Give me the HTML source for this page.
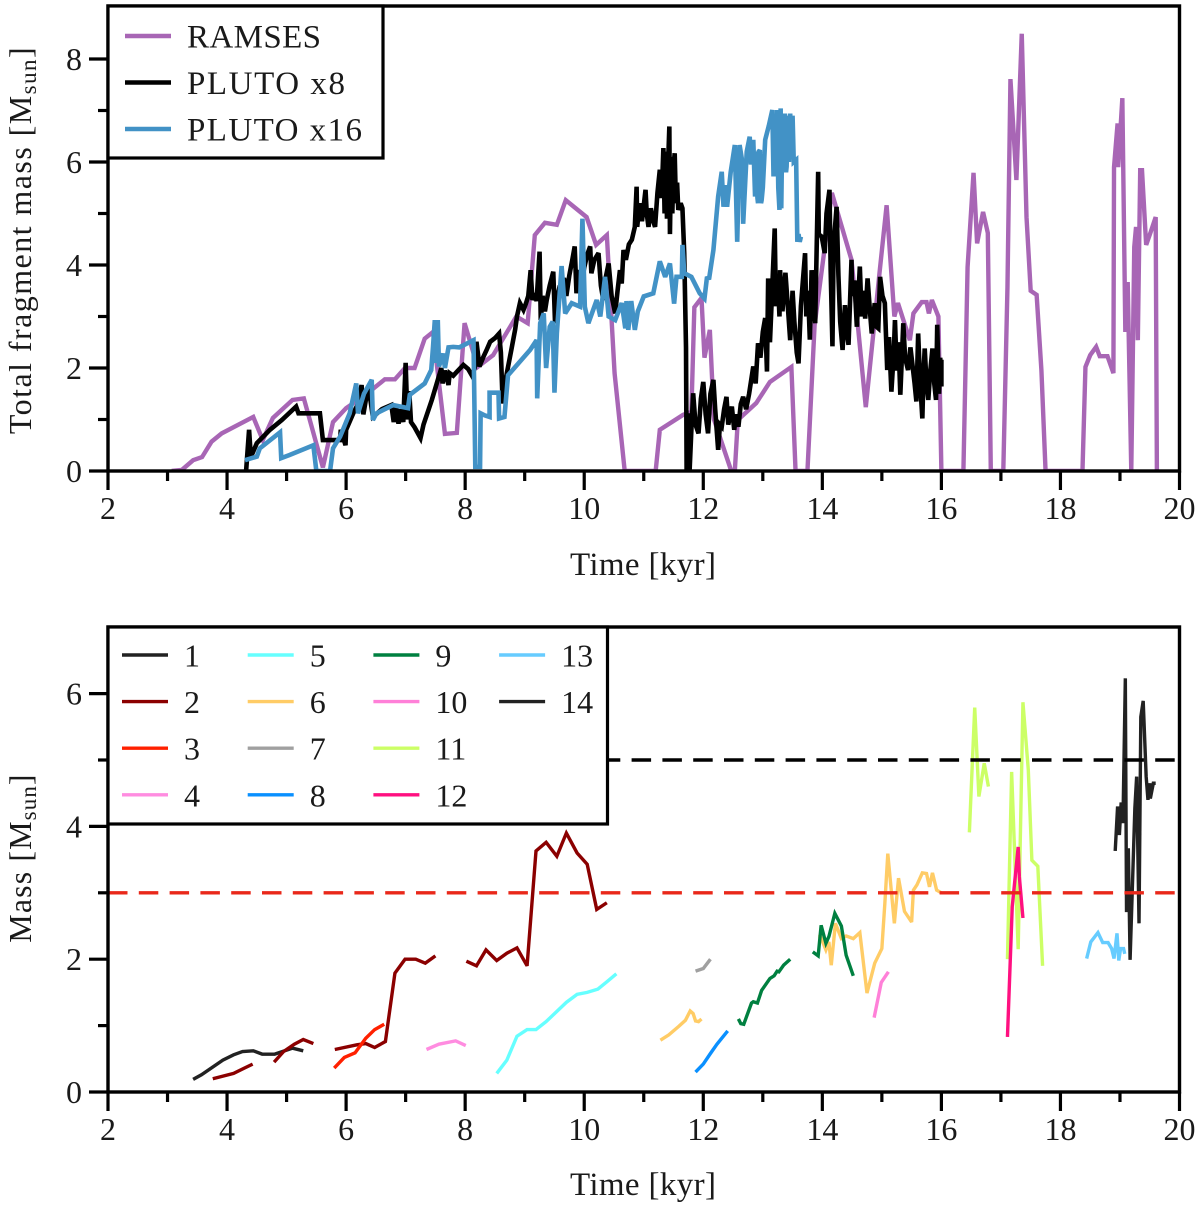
<!DOCTYPE html>
<html lang="en">
<head>
<meta charset="utf-8">
<title>Fragment mass over time</title>
<style>
html,body{margin:0;padding:0;background:#fff;}
svg{display:block;font-family:"Liberation Serif",serif;fill:#1a1a1a;}
</style>
</head>
<body>
<svg id="figure" xmlns="http://www.w3.org/2000/svg" width="1200" height="1209" viewBox="0 0 1200 1209">
  <rect x="0" y="0" width="1200" height="1209" fill="#fff"/>
  <g id="top-panel"></g>
  <g id="bottom-panel"></g>
  <text x="643" y="575" font-size="33" text-anchor="middle" textLength="146" lengthAdjust="spacing">Time [kyr]</text>
  <text x="643" y="1195" font-size="33" text-anchor="middle" textLength="146" lengthAdjust="spacing">Time [kyr]</text>
  <text transform="translate(31,240) rotate(-90)" font-size="32" text-anchor="middle" letter-spacing="1.45">Total fragment mass [M<tspan font-size="23" dy="5">sun</tspan><tspan dy="-5">]</tspan></text>
  <text transform="translate(31,858) rotate(-90)" font-size="32" text-anchor="middle" letter-spacing="1.1">Mass [M<tspan font-size="23" dy="5">sun</tspan><tspan dy="-5">]</tspan></text>
</svg>
<script>
// ---------- Top panel data ----------
const ramsesTime = [
3.07,3.24,3.43,3.58,3.74,3.91,4.44,4.6,4.77,5.1,
5.29,5.61,5.78,6.0,6.35,6.65,6.82,6.99,7.15,7.32,
7.46,7.66,7.86,7.99,8.21,8.47,8.86,9.05,9.17,9.34,
9.54,9.69,10.04,10.2,10.38,10.51,10.68,11.2,11.27,11.66,
11.8,11.85,11.97,12.02,12.11,12.18,12.47,12.53,12.58,12.89,
13.12,13.48,13.55,13.75,13.87,14.16,14.49,14.73,14.96,15.08,
15.21,15.27,15.47,15.53,15.67,15.75,15.79,15.84,15.95,16.0,
16.37,16.44,16.54,16.6,16.7,16.78,16.83,17.04,17.11,17.16,
17.26,17.35,17.43,17.5,17.6,17.68,17.75,18.37,18.42,18.5,
18.6,18.66,18.79,18.89,18.9,18.96,18.97,19.04,19.09,19.13,
19.19,19.24,19.27,19.3,19.34,19.37,19.44,19.51,19.6,19.62];
const ramsesMass = [
0,.02,.21,.27,.57,.73,1.05,.6,1.03,1.38,
1.41,.07,.95,1.22,1.5,1.78,1.78,2.0,2.0,2.57,
2.7,.72,.74,2.87,2.02,2.25,3.0,2.87,4.58,4.82,
4.78,5.26,4.93,4.39,4.58,1.9,0,0,.8,1.09,
1.15,3.18,3.36,2.2,2.74,1.0,0,0,.99,1.32,
1.73,2.02,0,0,2.83,5.4,4.1,1.24,3.84,5.16,
3.0,3.26,2.54,3.06,3.28,3.28,3.06,3.32,3.0,0,
0,3.96,5.79,4.42,5.03,4.62,0,0,3.57,7.61,
5.65,8.49,4.93,3.5,3.42,1.96,0,0,2.02,2.25,
2.41,2.23,2.23,1.9,5.9,6.75,5.9,7.24,2.7,3.67,
0,4.35,4.74,2.54,5.84,5.84,4.39,4.62,4.93,0];
const pluto8Time = [
4.32,4.37,4.4,4.5,4.72,4.92,5.16,5.2,5.56,5.61,
5.9,5.91,5.99,6.0,6.12,6.2,6.26,6.29,6.34,6.38,
6.45,6.6,6.76,6.8,6.84,6.88,6.92,6.96,7.0,7.03,
7.06,7.09,7.15,7.25,7.3,7.44,7.6,7.62,7.66,7.72,
7.74,7.8,7.88,7.97,8.05,8.11,8.16,8.19,8.24,8.3,
8.36,8.42,8.5,8.57,8.6,8.63,8.65,8.7,8.78,8.84,
8.87,8.92,8.98,9.02,9.06,9.1,9.13,9.17,9.2,9.25,
9.27,9.3,9.34,9.37,9.42,9.48,9.51,9.55,9.59,9.62,
9.66,9.7,9.75,9.8,9.84,9.87,9.91,9.96,10.0,10.05,
10.1,10.12,10.17,10.24,10.28,10.32,10.36,10.41,10.46,10.52,
10.56,10.6,10.63,10.66,10.7,10.75,10.8,10.85,10.88,10.89,
10.93,10.97,11.03,11.05,11.08,11.12,11.16,11.19,11.23,11.27,
11.3,11.33,11.35,11.37,11.39,11.41,11.43,11.44,11.46,11.48,
11.5,11.52,11.54,11.56,11.58,11.62,11.65,11.68,11.71,11.72,
11.74,11.77,11.8,11.83,11.87,11.92,11.96,12.0,12.04,12.08,
12.12,12.17,12.2,12.25,12.28,12.31,12.35,12.39,12.42,12.48,
12.52,12.55,12.59,12.63,12.67,12.72,12.77,12.84,12.88,12.92,
12.96,13.0,13.04,13.07,13.09,13.12,13.16,13.2,13.22,13.25,
13.28,13.29,13.33,13.38,13.42,13.46,13.5,13.53,13.57,13.6,
13.64,13.71,13.73,13.76,13.79,13.82,13.85,13.88,13.93,13.94,
13.99,14.04,14.07,14.12,14.14,14.17,14.19,14.24,14.27,14.3,
14.34,14.38,14.41,14.44,14.49,14.5,14.54,14.58,14.63,14.66,
14.69,14.72,14.76,14.8,14.83,14.88,14.91,14.94,14.97,15.01,
15.05,15.09,15.12,15.16,15.2,15.22,15.25,15.28,15.31,15.36,
15.39,15.44,15.48,15.52,15.55,15.58,15.61,15.64,15.68,15.7,
15.72,15.75,15.78,15.81,15.85,15.88,15.91,15.93,15.96,15.98,
16.0,16.0];
const pluto8Mass = [
0,.8,.27,.54,.8,.99,1.25,1.12,1.12,.6,
.6,.8,.5,.8,1.12,1.3,1.67,1.1,1.44,1.6,
1.05,1.2,1.28,.95,1.25,.92,1.2,.95,2.1,1.0,
1.55,.95,.85,.64,.9,1.38,2.0,1.7,1.95,1.67,
1.9,1.85,1.95,2.06,1.98,1.86,2.0,2.51,2.03,2.2,
2.35,2.51,2.58,2.67,2.3,1.31,1.6,1.9,2.38,2.75,
3.0,3.26,3.13,3.25,3.4,3.9,3.32,3.45,3.3,4.26,
2.93,3.4,3.1,3.32,3.6,3.87,2.87,3.4,3.6,3.5,
3.75,3.4,3.8,4.1,4.36,3.45,3.9,3.65,3.95,4.2,
4.36,3.84,4.1,4.23,3.6,3.32,3.75,4.03,3.4,3.06,
3.5,3.9,3.64,4.29,4.1,4.4,4.49,4.74,5.52,4.74,
5.2,4.85,5.46,5.0,4.74,5.1,4.85,4.74,5.4,5.85,
5.3,6.27,5.0,6.2,4.9,6.0,6.69,4.6,6.1,5.0,
5.9,6.17,5.2,5.6,5.07,5.2,5.1,4.23,2.4,.03,
1.12,0,.8,1.51,.9,.73,1.4,1.73,1.1,.73,
1.5,1.77,1.2,.41,.9,.86,1.2,1.44,.9,1.25,
.8,1.1,.86,1.3,1.44,1.2,1.5,2.03,1.7,2.48,
2.2,2.7,2.97,1.93,3.74,2.5,3.6,4.71,3.2,3.8,
3.0,3.9,3.1,3.85,3.2,2.54,3.5,2.9,2.3,2.09,
3.2,4.23,3.0,3.5,2.55,3.9,3.2,2.87,5.81,4.6,
4.55,4.23,5.0,5.46,3.9,2.42,4.4,5.13,3.8,2.9,
2.35,3.22,2.7,2.45,4.1,3.4,3.7,2.8,3.97,3.0,
3.5,2.96,3.74,3.1,2.67,3.26,2.8,2.77,3.77,3.4,
3.26,1.96,2.6,1.54,2.3,2.93,1.95,2.5,1.48,2.87,
2.2,1.96,2.4,2.0,1.7,1.35,2.67,1.8,1.02,1.9,
2.38,1.7,1.38,1.9,2.38,1.7,1.38,2.84,1.5,2.2,
1.64,2.16];
const pluto16Time = [
4.3,4.5,4.55,4.89,4.91,5.05,5.45,5.5,5.73,5.78,
5.9,6.06,6.17,6.2,6.3,6.43,6.45,6.51,6.79,7.04,
7.07,7.32,7.43,7.46,7.49,7.51,7.54,7.56,7.63,7.66,
7.72,7.8,7.9,8.14,8.17,8.25,8.26,8.33,8.41,8.41,
8.56,8.57,8.66,8.72,9.09,9.2,9.21,9.26,9.32,9.36,
9.42,9.47,9.5,9.54,9.62,9.68,9.79,9.93,9.97,10.01,
10.07,10.21,10.27,10.35,10.41,10.52,10.63,10.69,10.71,10.74,
10.79,10.85,10.9,11.0,11.16,11.27,11.36,11.44,11.51,11.55,
11.64,11.65,11.68,11.8,11.94,12.02,12.06,12.1,12.17,12.25,
12.31,12.34,12.37,12.4,12.46,12.53,12.57,12.61,12.66,12.67,
12.73,12.78,12.8,12.84,12.87,12.89,12.91,12.92,12.93,12.95,
12.97,12.98,13.0,13.04,13.1,13.16,13.18,13.2,13.22,13.24,
13.26,13.28,13.3,13.31,13.33,13.35,13.37,13.39,13.4,13.42,
13.44,13.46,13.48,13.5,13.52,13.56,13.58,13.6,13.62,13.64];
const pluto16Mass = [
.21,.28,.44,.75,.25,.31,.5,0,0,.44,
.67,1.12,1.7,1.12,1.5,1.77,.99,1.12,1.28,1.22,
1.48,1.7,1.96,2.41,2.93,2.1,2.93,2.03,2.28,2.0,
2.4,2.41,2.4,2.54,.08,.08,1.12,1.08,1.05,1.52,
1.52,1.02,1.05,1.86,2.35,2.54,1.41,2.87,3.06,2.0,
2.8,2.9,1.52,2.67,3.98,3.06,3.26,3.19,4.9,3.19,
2.87,3.32,3.0,3.77,3.0,2.93,3.26,2.77,3.3,2.74,
3.3,2.74,3.1,3.39,3.45,4.07,3.77,4.03,3.25,3.77,
3.77,4.39,3.84,3.77,3.45,3.35,3.74,3.75,4.29,5.33,
5.81,5.13,5.55,5.13,5.8,6.33,4.45,6.33,5.97,4.8,
6.2,6.49,5.95,6.43,5.33,6.2,5.3,5.2,6.2,6.23,
5.2,5.26,5.5,6.43,6.7,7.01,5.72,6.9,5.9,7.01,
5.5,5.07,7.04,5.1,6.9,5.9,6.94,5.8,5.91,6.9,
6.0,6.94,6.1,6.9,6.0,6.04,4.45,4.6,4.45,4.55];

// ---------- Bottom panel data (null marks a gap in a fragment's track) ----------
const frag1Time = [3.43,3.57,3.93,4.11,4.26,4.44,4.59,4.8,5.1,5.28];
const frag1Mass = [.19,.26,.48,.56,.61,.62,.57,.57,.66,.62];
const frag2Time = [3.76,4.11,4.29,4.43,null,4.79,4.95,5.13,5.28,5.45,null,5.81,6.18,6.33,6.48,6.66,6.82,6.99,7.17,7.33,7.5,null,8.02,8.19,8.35,8.53,8.7,8.87,9.04,9.19,9.36,9.54,9.7,9.88,10.05,10.21,10.38];
const frag2Mass = [.2,.28,.36,.42,null,.45,.61,.72,.79,.73,null,.64,.71,.73,.67,.76,1.79,2.0,2.0,1.94,2.05,null,1.97,1.9,2.14,1.98,2.09,2.17,1.9,3.63,3.76,3.55,3.9,3.6,3.43,2.75,2.85];
const frag3Time = [5.8,5.97,6.15,6.33,6.48,6.64];
const frag3Mass = [.36,.52,.59,.81,.94,1.02];
const frag4Time = [7.35,7.56,7.84,8.01];
const frag4Mass = [.64,.72,.77,.7];
const frag5Time = [8.53,8.7,8.87,9.04,9.19,9.36,9.7,9.88,10.05,10.23,10.38,10.54];
const frag5Mass = [.28,.48,.84,.94,.94,1.06,1.35,1.47,1.5,1.55,1.66,1.78];
const frag6Time = [11.28,11.42,11.59,11.7,11.78,11.83,11.87,11.92,11.97,null,13.93,13.97,14.06,14.11,14.15,14.22,14.32,14.4,14.52,14.63,14.75,14.88,15.0,15.05,15.1,15.21,15.28,15.38,15.5,15.53,15.59,15.68,15.75,15.8,15.85,15.92,16.0];
const frag6Mass = [.78,.86,.99,1.08,1.22,1.18,1.07,1.06,1.1,null,2.34,2.34,2.14,2.26,1.91,2.54,2.31,2.35,2.31,2.4,1.49,1.94,2.16,2.84,3.59,2.54,3.22,2.72,2.56,3.04,3.12,3.3,3.29,3.09,3.3,3.04,3.0];
const frag7Time = [11.87,12.0,12.12];
const frag7Mass = [1.82,1.86,2.0];
const frag8Time = [11.87,12.0,12.12,12.23,12.41];
const frag8Mass = [.3,.42,.58,.72,.92];
const frag9Time = [12.59,12.63,12.68,12.81,12.84,12.91,12.98,13.12,13.19,13.24,13.27,13.35,13.46,null,13.84,13.93,13.98,14.06,14.11,14.21,14.32,14.4,14.52];
const frag9Mass = [1.1,1.03,1.02,1.34,1.36,1.34,1.53,1.71,1.75,1.82,1.81,1.91,2.0,null,2.11,2.05,2.51,2.24,2.34,2.69,2.5,2.06,1.75];
const frag10Time = [14.87,14.99,15.11];
const frag10Mass = [1.12,1.65,1.81];
const frag11Time = [16.47,16.56,16.63,16.72,16.79,null,17.11,17.18,17.29,17.37,17.46,17.52,17.62,17.7];
const frag11Mass = [3.91,5.79,4.45,4.95,4.6,null,2.0,4.82,2.15,5.87,4.85,3.49,3.4,1.9];
const frag12Time = [17.11,17.19,17.29,17.31,17.37];
const frag12Mass = [.83,2.79,3.69,3.24,2.62];
const frag13Time = [18.44,18.51,18.63,18.71,18.8,18.86,18.9,18.95,18.98,19.01,19.06,19.08];
const frag13Mass = [2.01,2.26,2.4,2.25,2.25,2.16,2.01,2.39,1.98,2.16,2.16,2.08];
const frag14Time = [18.92,18.96,18.99,19.02,19.05,19.09,19.11,19.14,19.17,19.25,19.28,19.32,19.35,19.39,19.44,19.47,19.5,19.51,19.56,19.6];
const frag14Mass = [3.63,4.3,3.87,4.36,4.05,6.23,2.71,3.67,1.99,4.27,4.75,2.54,5.65,5.89,4.75,4.4,4.65,4.42,4.65,4.65];

// ---------- Ticks and labels ----------
const xMajorTicks = [2,4,6,8,10,12,14,16,18,20];
const xMinorTicks = [3,5,7,9,11,13,15,17,19];
const topYMajorTicks = [0,2,4,6,8];
const topYMinorTicks = [1,3,5,7];
const bottomYMajorTicks = [0,2,4,6];
const bottomYMinorTicks = [1,3,5];
const criticalMasses = [5,3];
const topLegendLabels = ['RAMSES','PLUTO x8','PLUTO x16'];
const fragmentLabels = ['1','2','3','4','5','6','7','8','9','10','11','12','13','14'];

const NS = 'http://www.w3.org/2000/svg';
const LEFT = 108, RIGHT = 1179.5;
const xScale = t => LEFT + (t - 2) * (RIGHT - LEFT) / 18;
const topY = m => 471 - m * 51.5;
const bottomY = m => 1092 - m * 66.4;

function make(parent, tag, attrs, text) {
  const el = document.createElementNS(NS, tag);
  for (const k in attrs) el.setAttribute(k, attrs[k]);
  if (text !== undefined) el.textContent = text;
  parent.appendChild(el);
  return el;
}
function pathFrom(times, masses, yScale) {
  let d = '', pen = false;
  for (let i = 0; i < times.length; i++) {
    if (times[i] === null || masses[i] === null) { pen = false; continue; }
    d += (pen ? 'L' : 'M') + xScale(times[i]).toFixed(2) + ' ' + yScale(masses[i]).toFixed(2);
    pen = true;
  }
  return d;
}
function drawSeries(parent, times, masses, yScale, color, width, name) {
  const p = make(parent, 'path', {d: pathFrom(times, masses, yScale), fill: 'none', stroke: color, 'stroke-width': width, 'stroke-linejoin': 'miter', 'stroke-miterlimit': 3});
  
  
  return p;
}
function drawAxes(parent, yScale, yMajor, yMinor, top, bottom, prefix) {
  const sp = make(parent, 'rect', {x: LEFT, y: top, width: RIGHT - LEFT, height: bottom - top, fill: 'none', stroke: '#000', 'stroke-width': 3.4});
  
  
  xMajorTicks.forEach(t => {
    const x = xScale(t);
    const tick = make(parent, 'line', {x1: x, x2: x, y1: bottom, y2: bottom + 19, stroke: '#000', 'stroke-width': 3.2});
    
    
    const label = make(parent, 'text', {x: x, y: bottom + 48, 'font-size': 32, 'text-anchor': 'middle'}, String(t));
    
    
  });
  xMinorTicks.forEach(t => {
    const x = xScale(t);
    const tick = make(parent, 'line', {x1: x, x2: x, y1: bottom, y2: bottom + 10, stroke: '#000', 'stroke-width': 3.2});
    
    
  });
  yMajor.forEach(m => {
    const y = yScale(m);
    const tick = make(parent, 'line', {x1: LEFT - 19, x2: LEFT, y1: y, y2: y, stroke: '#000', 'stroke-width': 3.2});
    
    
    const label = make(parent, 'text', {x: 82, y: y + 11, 'font-size': 32, 'text-anchor': 'end'}, String(m));
    
    
  });
  yMinor.forEach(m => {
    const y = yScale(m);
    const tick = make(parent, 'line', {x1: LEFT - 10, x2: LEFT, y1: y, y2: y, stroke: '#000', 'stroke-width': 3.2});
    
    
  });
}

// ---------- Top panel ----------
const topPanel = document.getElementById('top-panel');
const topClip = make(topPanel, 'clipPath', {id: 'top-clip'});
make(topClip, 'rect', {x: LEFT, y: 6, width: RIGHT - LEFT, height: 465});
const topMarks = make(topPanel, 'g', {'clip-path': 'url(#top-clip)'});


const topColors = ['#a866b5', '#000000', '#4292c6'];
drawSeries(topMarks, ramsesTime, ramsesMass, topY, topColors[0], 4.4, 'ramses-line');
drawSeries(topMarks, pluto8Time, pluto8Mass, topY, topColors[1], 4.6, 'pluto-x8-line');
drawSeries(topMarks, pluto16Time, pluto16Mass, topY, topColors[2], 4.6, 'pluto-x16-line');
drawAxes(topPanel, topY, topYMajorTicks, topYMinorTicks, 6, 471, 'top');

const topLegend = make(topPanel, 'g', {});


make(topLegend, 'rect', {x: 108, y: 6, width: 275, height: 152, fill: '#fff', stroke: '#000', 'stroke-width': 3.2});
const topLegendTextWidths = [134, 158, 175];
topLegendLabels.forEach((label, i) => {
  const y = 36 + i * 46.5;
  const handle = make(topLegend, 'line', {x1: 125, x2: 171, y1: y, y2: y, stroke: topColors[i], 'stroke-width': 4.4});
  
  
  const text = make(topLegend, 'text', {x: 187, y: y + 11.5, 'font-size': 33, textLength: topLegendTextWidths[i], lengthAdjust: 'spacing'}, label);
  
  
});

// ---------- Bottom panel ----------
const bottomPanel = document.getElementById('bottom-panel');
const bottomClip = make(bottomPanel, 'clipPath', {id: 'bottom-clip'});
make(bottomClip, 'rect', {x: LEFT, y: 627, width: RIGHT - LEFT, height: 465});
const bottomMarks = make(bottomPanel, 'g', {'clip-path': 'url(#bottom-clip)'});


const fragmentColors = ['#222222','#8b0000','#ff2000','#ff8ce0','#66ffff','#ffcc66','#a0a0a0','#0a90ff','#008040','#ff80d8','#ccff66','#ff1080','#66ccff','#222222'];
const fragmentSeries = [
  [frag1Time, frag1Mass],[frag2Time, frag2Mass],[frag3Time, frag3Mass],[frag4Time, frag4Mass],
  [frag5Time, frag5Mass],[frag6Time, frag6Mass],[frag7Time, frag7Mass],[frag8Time, frag8Mass],
  [frag9Time, frag9Mass],[frag10Time, frag10Mass],[frag11Time, frag11Mass],[frag12Time, frag12Mass],
  [frag13Time, frag13Mass],[frag14Time, frag14Mass]
];
fragmentSeries.forEach((s, i) => {
  drawSeries(bottomMarks, s[0], s[1], bottomY, fragmentColors[i], 3.4, 'fragment-' + fragmentLabels[i] + '-line');
});
const dashColors = ['#000000', '#e9281a'];
criticalMasses.forEach((m, i) => {
  const dash = make(bottomMarks, 'line', {x1: LEFT, x2: RIGHT, y1: bottomY(m), y2: bottomY(m), stroke: dashColors[i], 'stroke-width': 3.4, 'stroke-dasharray': '19.5 11.3'});
  
  
});
drawAxes(bottomPanel, bottomY, bottomYMajorTicks, bottomYMinorTicks, 627, 1092, 'bottom');

const bottomLegend = make(bottomPanel, 'g', {});


make(bottomLegend, 'rect', {x: 108, y: 627, width: 499.5, height: 197, fill: '#fff', stroke: '#000', 'stroke-width': 3.2});
fragmentLabels.forEach((label, i) => {
  const col = Math.floor(i / 4), row = i % 4;
  const hx = 122 + col * 125.7;
  const y = 655 + row * 46.6;
  const handle = make(bottomLegend, 'line', {x1: hx, x2: hx + 46, y1: y, y2: y, stroke: fragmentColors[i], 'stroke-width': 3.4});
  
  
  const text = make(bottomLegend, 'text', {x: hx + 62, y: y + 11.5, 'font-size': 32}, label);
  
  
});
</script>
</body>
</html>
